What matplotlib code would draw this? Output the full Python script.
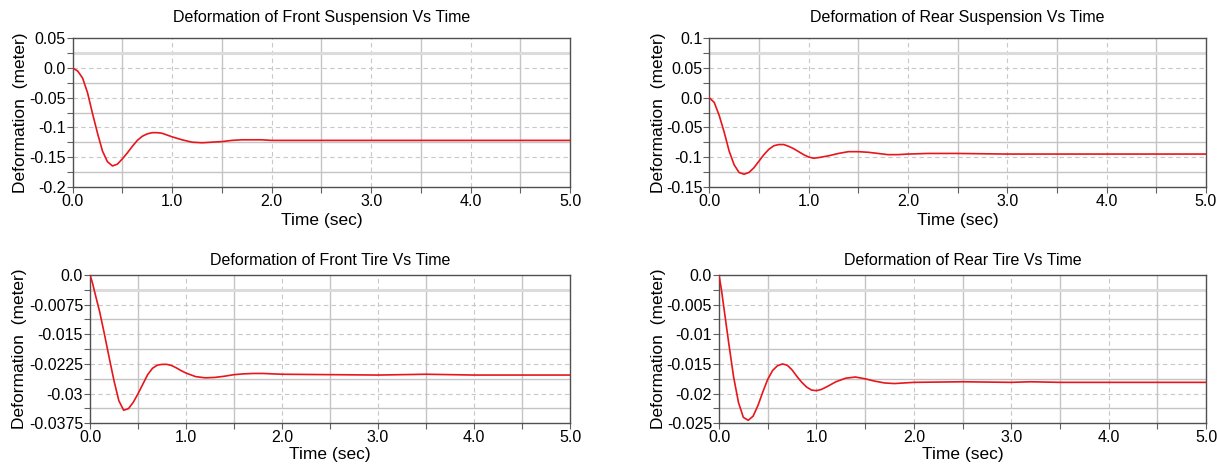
import matplotlib
matplotlib.use("Agg")
import numpy as np
from matplotlib import pyplot as plt
from matplotlib.ticker import FixedLocator, FixedFormatter

FONT = ['Liberation Sans', 'DejaVu Sans']

# Front suspension deformation (m)
fs_time = [0, 0.05, 0.1, 0.15, 0.2, 0.25, 0.3, 0.35, 0.4, 0.45, 0.5, 0.55, 0.6, 0.65,
           0.7, 0.75, 0.8, 0.85, 0.9, 0.95, 1.0, 1.1, 1.2, 1.3, 1.4, 1.5, 1.6, 1.7,
           1.8, 1.9, 2.0, 2.5, 3.0, 3.5, 4.0, 4.5, 5.0]
fs_defl = [0, -0.005, -0.017, -0.042, -0.077, -0.110, -0.140, -0.158, -0.165, -0.162,
           -0.153, -0.143, -0.132, -0.122, -0.115, -0.111, -0.109, -0.109, -0.110,
           -0.113, -0.116, -0.121, -0.125, -0.126, -0.125, -0.124, -0.122, -0.121,
           -0.121, -0.121, -0.122, -0.122, -0.122, -0.122, -0.122, -0.122, -0.122]

# Rear suspension
rs_time = [0, 0.05, 0.1, 0.15, 0.2, 0.25, 0.3, 0.35, 0.4, 0.45, 0.5, 0.55, 0.6, 0.65,
           0.7, 0.75, 0.8, 0.85, 0.9, 0.95, 1.0, 1.05, 1.1, 1.2, 1.3, 1.4, 1.5, 1.6,
           1.7, 1.8, 1.9, 2.0, 2.2, 2.5, 3.0, 3.5, 4.0, 4.5, 5.0]
rs_defl = [0, -0.008, -0.030, -0.058, -0.090, -0.113, -0.126, -0.129, -0.126, -0.118,
           -0.107, -0.096, -0.087, -0.081, -0.079, -0.079, -0.082, -0.086, -0.091,
           -0.096, -0.100, -0.102, -0.101, -0.098, -0.094, -0.091, -0.091, -0.092,
           -0.094, -0.096, -0.096, -0.095, -0.094, -0.094, -0.095, -0.095, -0.095,
           -0.095, -0.095]

# Front tire
ft_time = [0, 0.025, 0.05, 0.1, 0.15, 0.2, 0.25, 0.3, 0.35, 0.4, 0.45, 0.5, 0.55, 0.6,
           0.65, 0.7, 0.75, 0.8, 0.85, 0.9, 0.95, 1.0, 1.1, 1.2, 1.3, 1.4, 1.5, 1.6,
           1.7, 1.8, 1.9, 2.0, 2.5, 3.0, 3.5, 4.0, 4.5, 5.0]
ft_defl = [0, -0.0020, -0.0045, -0.0093, -0.0150, -0.0210, -0.0268, -0.0318, -0.0342,
           -0.0338, -0.0322, -0.0300, -0.0276, -0.0252, -0.0236, -0.0228, -0.0226,
           -0.0226, -0.0229, -0.0235, -0.0242, -0.0248, -0.0257, -0.0260, -0.0259,
           -0.0256, -0.0252, -0.0250, -0.0249, -0.0249, -0.0250, -0.0251, -0.0252,
           -0.0253, -0.0251, -0.0253, -0.0253, -0.0253]

# Rear tire
rt_time = [0, 0.025, 0.05, 0.1, 0.15, 0.2, 0.25, 0.3, 0.35, 0.4, 0.45, 0.5, 0.55, 0.6,
           0.65, 0.7, 0.75, 0.8, 0.85, 0.9, 0.95, 1.0, 1.05, 1.1, 1.2, 1.3, 1.4, 1.5,
           1.6, 1.7, 1.8, 1.9, 2.0, 2.5, 3.0, 3.2, 3.5, 4.0, 4.5, 5.0]
rt_defl = [0, -0.0025, -0.0055, -0.0115, -0.0172, -0.0215, -0.0240, -0.0245, -0.0238,
           -0.0220, -0.0197, -0.0176, -0.0161, -0.0153, -0.0150, -0.0152, -0.0160,
           -0.0171, -0.0181, -0.0189, -0.0194, -0.0195, -0.0193, -0.0189, -0.0180,
           -0.0174, -0.0172, -0.0175, -0.0179, -0.0182, -0.0183, -0.0182, -0.0181,
           -0.0180, -0.0181, -0.0180, -0.0181, -0.0181, -0.0181, -0.0181]

x_ticks = [0, 1, 2, 3, 4, 5]
x_labels = ['0.0', '1.0', '2.0', '3.0', '4.0', '5.0']

panels = [
    dict(title='Deformation of Front Suspension Vs Time', t=fs_time, y=fs_defl,
         yticks=[0.05, 0.0, -0.05, -0.1, -0.15, -0.2],
         ylabels=['0.05', '0.0', '-0.05', '-0.1', '-0.15', '-0.2'],
         rect=[0.0597, 0.5985, 0.4087, 0.3191], ylab_x=-0.105, tpad=12, xpad=3),
    dict(title='Deformation of Rear Suspension Vs Time', t=rs_time, y=rs_defl,
         yticks=[0.1, 0.05, 0.0, -0.05, -0.1, -0.15],
         ylabels=['0.1', '0.05', '0.0', '-0.05', '-0.1', '-0.15'],
         rect=[0.5828, 0.5985, 0.4081, 0.3191], ylab_x=-0.103, tpad=12, xpad=3),
    dict(title='Deformation of Front Tire Vs Time', t=ft_time, y=ft_defl,
         yticks=[0.0, -0.0075, -0.015, -0.0225, -0.03, -0.0375],
         ylabels=['0.0', '-0.0075', '-0.015', '-0.0225', '-0.03', '-0.0375'],
         rect=[0.0740, 0.0897, 0.3944, 0.3189], ylab_x=-0.148, tpad=7, xpad=1),
    dict(title='Deformation of Rear Tire Vs Time', t=rt_time, y=rt_defl,
         yticks=[0.0, -0.005, -0.01, -0.015, -0.02, -0.025],
         ylabels=['0.0', '-0.005', '-0.01', '-0.015', '-0.02', '-0.025'],
         rect=[0.5908, 0.0897, 0.4002, 0.3189], ylab_x=-0.125, tpad=7, xpad=1),
]

fig = plt.figure(figsize=(12.17, 4.65), dpi=100)

for p in panels:
    ax = fig.add_axes(p['rect'])
    yt = p['yticks']
    step = yt[0] - yt[1]
    ymin, ymax = min(yt), max(yt)
    y_minor = [v - step / 2 for v in yt[:-1]]
    x_minor = [v + 0.5 for v in x_ticks[:-1]]

    # major = dashed grid, minor = solid grid
    for v in yt[1:-1]:
        ax.axhline(v, color='#c8c8c8', lw=0.8, ls=(0, (4, 3)), zorder=0)
    for v in y_minor:
        ax.axhline(v, color='#c4c4c4', lw=1.0, zorder=0)
    for v in x_ticks[1:-1]:
        ax.axvline(v, color='#c8c8c8', lw=0.8, ls=(0, (4, 3)), zorder=0)
    for v in x_minor:
        ax.axvline(v, color='#c4c4c4', lw=1.0, zorder=0)
    ax.axhline(y_minor[0], color='#dcdcdc', lw=2.2, zorder=0)

    ax.plot(p['t'], p['y'], color='#e8151b', lw=1.2, zorder=3)

    ax.set_xlim(0, 5)
    ax.set_ylim(ymin, ymax)
    ax.xaxis.set_major_locator(FixedLocator(x_ticks))
    ax.xaxis.set_major_formatter(FixedFormatter(x_labels))
    ax.xaxis.set_minor_locator(FixedLocator(x_minor))
    ax.yaxis.set_major_locator(FixedLocator(yt))
    ax.yaxis.set_major_formatter(FixedFormatter(p['ylabels']))
    ax.yaxis.set_minor_locator(FixedLocator(y_minor))
    ax.tick_params(which='both', direction='out', length=4, width=0.8,
                   color='#606060', labelsize=11.5, pad=1)
    for lab in ax.get_xticklabels() + ax.get_yticklabels():
        lab.set_family(FONT)
    for s in ax.spines.values():
        s.set_color('#505050')
        s.set_linewidth(1.0)

    ax.set_title(p['title'], family=FONT, fontsize=11.5, pad=p['tpad'])
    ax.set_xlabel('Time (sec)', family=FONT, fontsize=12.5, labelpad=p['xpad'])
    ax.set_ylabel('Deformation  (meter)', family=FONT, fontsize=12.5)
    ax.yaxis.set_label_coords(p['ylab_x'], 0.5)
    ax.yaxis.label.set_va('center')

fig.savefig('out.png', dpi=100)
